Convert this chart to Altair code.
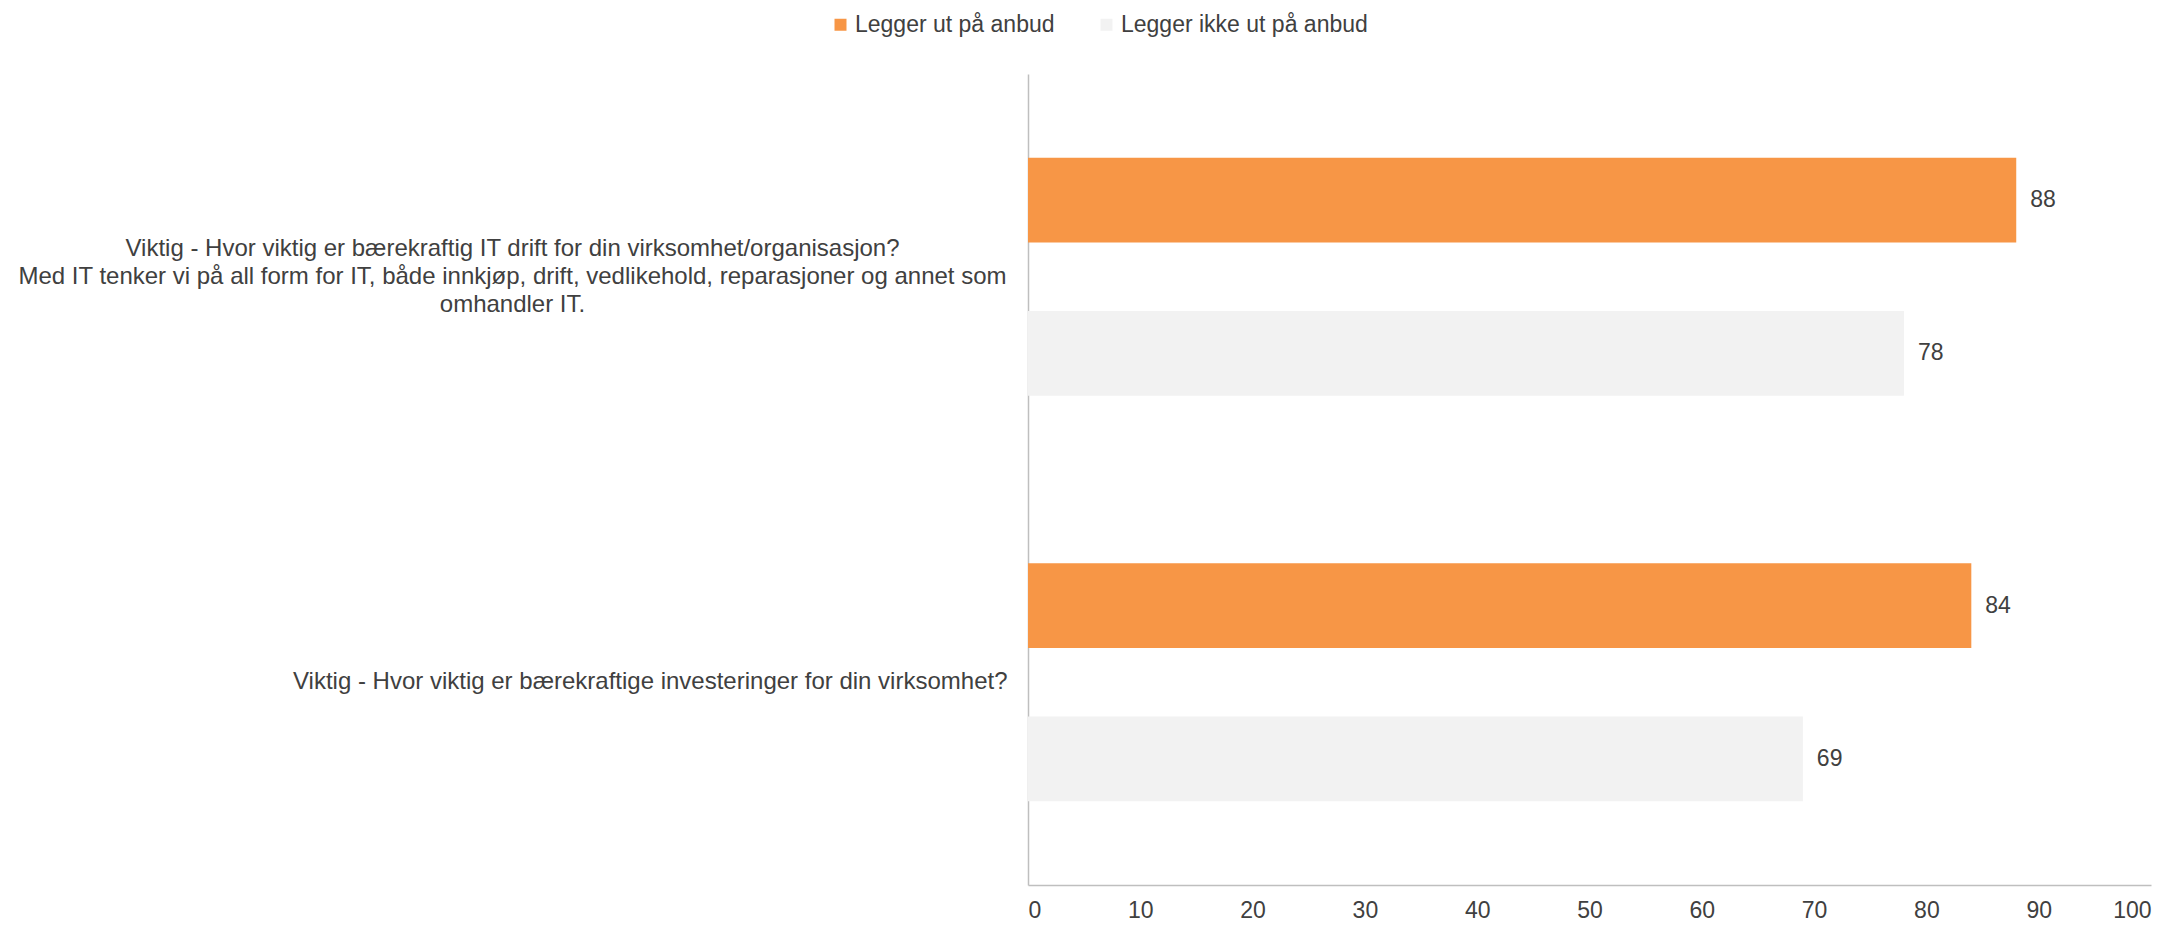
import altair as alt
import pandas as pd

categories = [
    "Viktig - Hvor viktig er bærekraftig IT drift for din virksomhet/organisasjon?|Med IT tenker vi på all form for IT, både innkjøp, drift, vedlikehold, reparasjoner og annet som|omhandler IT.",
    "Viktig - Hvor viktig er bærekraftige investeringer for din virksomhet?",
]
series = ["Legger ut på anbud", "Legger ikke ut på anbud"]
values_ut = [88, 84]
values_ikke = [78, 69]
colors = ["#F79646", "#F2F2F2"]
x_ticks = list(range(0, 101, 10))

rows = []
for c, a, b in zip(categories, values_ut, values_ikke):
    rows.append({"category": c, "series": series[0], "value": a})
    rows.append({"category": c, "series": series[1], "value": b})
df = pd.DataFrame(rows)

FONT = "Liberation Sans"
TXT = "#404040"
MULTI = "indexof(datum.label, '|') >= 0"

y_enc = alt.Y(
    "category:N",
    sort=categories,
    title=None,
    scale=alt.Scale(paddingInner=0, paddingOuter=0),
    axis=alt.Axis(
        ticks=False,
        grid=False,
        domainColor="#BFBFBF",
        domainWidth=1.5,
        labelExpr="split(datum.label, '|')",
        labelAlign={"condition": {"test": MULTI, "value": "center"}, "value": "right"},
        labelPadding={"condition": {"test": MULTI, "value": 516}, "value": 21},
        labelOffset={"condition": {"test": MULTI, "value": -28}, "value": 0},
        labelFontSize=24,
        labelLineHeight=28,
        labelColor=TXT,
        labelFont=FONT,
        labelLimit=2000,
    ),
)
yoff_enc = alt.YOffset(
    "series:N", sort=series, scale=alt.Scale(paddingInner=0.448, paddingOuter=0.547)
)
x_enc = alt.X(
    "value:Q",
    title=None,
    scale=alt.Scale(domain=[0, 100], nice=False),
    axis=alt.Axis(
        values=x_ticks,
        ticks=False,
        grid=False,
        domainColor="#BFBFBF",
        domainWidth=1.5,
        labelPadding=14,
        labelFontSize=23,
        labelColor=TXT,
        labelFont=FONT,
    ),
)

bars = alt.Chart(df).mark_bar().encode(
    x=x_enc,
    y=y_enc,
    yOffset=yoff_enc,
    color=alt.Color(
        "series:N",
        sort=series,
        scale=alt.Scale(domain=series, range=colors),
        legend=alt.Legend(
            orient="none",
            legendX=-199,
            legendY=-61,
            direction="horizontal",
            title=None,
            symbolType="square",
            symbolSize=144,
            symbolStrokeWidth=0,
            labelFontSize=23,
            labelColor=TXT,
            labelFont=FONT,
            labelLimit=500,
            labelOffset=3,
            columnPadding=40,
        ),
    ),
)

labels = alt.Chart(df).mark_text(
    align="left", baseline="middle", dx=14, fontSize=23, color=TXT, font=FONT
).encode(
    x="value:Q",
    y=alt.Y("category:N", sort=categories),
    yOffset=alt.YOffset("series:N", sort=series),
    text=alt.Text("value:Q", format="d"),
)

chart = (
    alt.layer(bars, labels)
    .properties(width=1123, height=811, padding={"left": 9, "top": 5, "right": 5, "bottom": 0})
    .configure(font=FONT)
    .configure_view(strokeWidth=0)
)

chart.save("out.html", embed_options={"renderer": "svg", "actions": False})
